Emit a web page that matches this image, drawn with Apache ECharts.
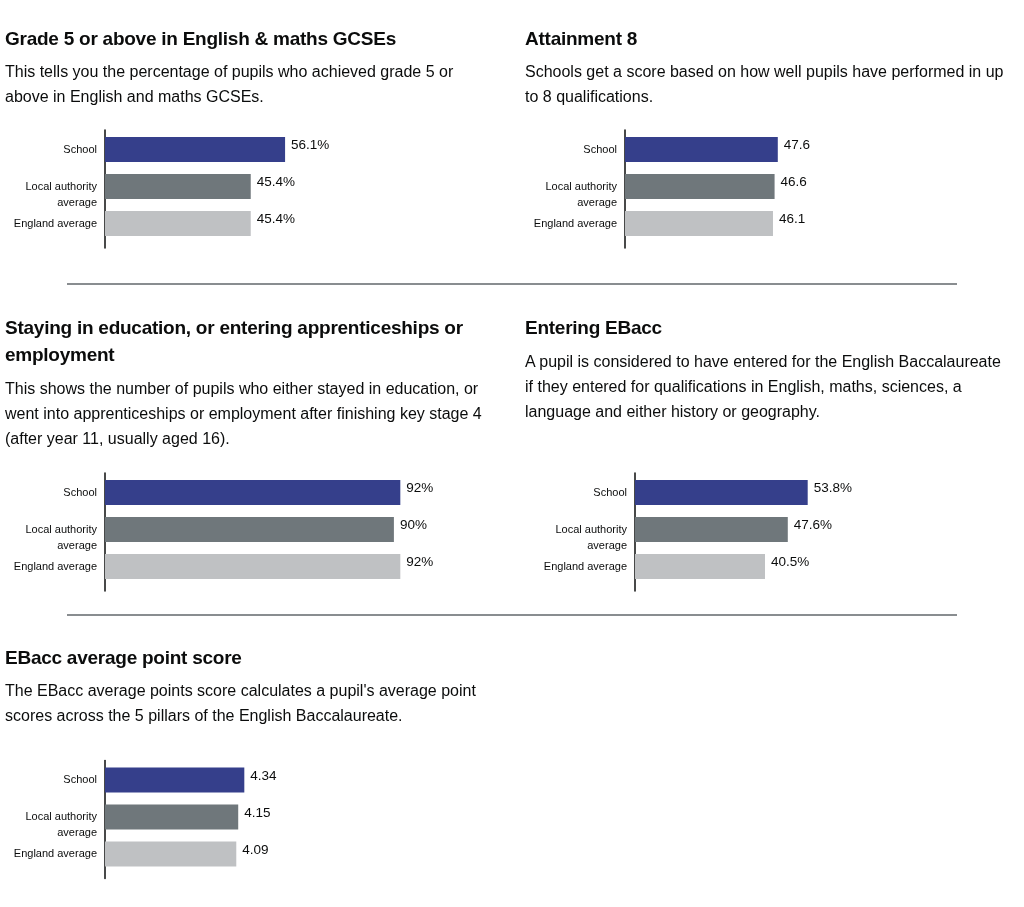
<!DOCTYPE html>
<html>
<head>
    <meta charset="utf-8">
    <title>School performance</title>
    <script src="https://cdn.jsdelivr.net/npm/echarts@6/dist/echarts.min.js"></script>
    <style>
        body{
            margin: 0;
            background: #fff;
            color: #0b0c0c;
            font-family: "Liberation Sans", Arial, sans-serif;
        }
        #page{
            position: relative;
            width: 1024px;
            height: 907px;
            overflow: hidden;
        }
        #charts{
            position: absolute;
            left: 0;
            top: 0;
            width: 1024px;
            height: 907px;
        }
        .block{
            position: absolute;
            white-space: nowrap;
            z-index: 2;
        }
        .block h2{
            margin: 0;
            font-size: 19px;
            line-height: 27px;
            font-weight: 700;
            letter-spacing: -0.25px;
        }
        .block p{
            margin: 0;
            font-size: 16px;
            line-height: 25px;
        }
        .rule{
            position: absolute;
            left: 67px;
            width: 890px;
            height: 2px;
            background: #898d90;
            z-index: 2;
        }
    </style>
</head>
<body>
<div id="page">
    <div id="charts"></div>

    <div class="block" style="left:5px;top:25px">
        <h2>Grade 5 or above in English &amp; maths GCSEs</h2>
    </div>
    <div class="block" style="left:5px;top:59px">
        <p>This tells you the percentage of pupils who achieved grade 5 or<br>above in English and maths GCSEs.</p>
    </div>

    <div class="block" style="left:525px;top:25px">
        <h2>Attainment 8</h2>
    </div>
    <div class="block" style="left:525px;top:59px">
        <p>Schools get a score based on how well pupils have performed in up<br>to 8 qualifications.</p>
    </div>

    <div class="rule" style="top:283px"></div>

    <div class="block" style="left:5px;top:314px">
        <h2>Staying in education, or entering apprenticeships or<br>employment</h2>
    </div>
    <div class="block" style="left:5px;top:376px">
        <p>This shows the number of pupils who either stayed in education, or<br>went into apprenticeships or employment after finishing key stage 4<br>(after year 11, usually aged 16).</p>
    </div>

    <div class="block" style="left:525px;top:314px">
        <h2>Entering EBacc</h2>
    </div>
    <div class="block" style="left:525px;top:349px">
        <p>A pupil is considered to have entered for the English Baccalaureate<br>if they entered for qualifications in English, maths, sciences, a<br>language and either history or geography.</p>
    </div>

    <div class="rule" style="top:614px"></div>

    <div class="block" style="left:5px;top:644px">
        <h2>EBacc average point score</h2>
    </div>
    <div class="block" style="left:5px;top:678px">
        <p>The EBacc average points score calculates a pupil's average point<br>scores across the 5 pillars of the English Baccalaureate.</p>
    </div>
</div>

<script>
    // categories shared by every chart
    var categories = ['School', 'Local authority\naverage', 'England average'];

    // values
    var gcseValues = [56.1, 45.4, 45.4];
    var attainmentValues = [47.6, 46.6, 46.1];
    var stayingValues = [92, 90, 92];
    var ebaccEntryValues = [53.8, 47.6, 40.5];
    var ebaccApsValues = [4.34, 4.15, 4.09];

    var barColours = ['#353f8b', '#6f777b', '#bfc1c3'];

    // where each small chart sits on the page
    var panels = [
        {values: gcseValues,       suffix: '%', max: 100, left: 105, top: 131},
        {values: attainmentValues, suffix: '',  max: 100, left: 625, top: 131},
        {values: stayingValues,    suffix: '%', max: 100, left: 105, top: 474},
        {values: ebaccEntryValues, suffix: '%', max: 100, left: 635, top: 474},
        {values: ebaccApsValues,   suffix: '',  max: 10,  left: 105, top: 761.5}
    ];

    var grid = [], xAxis = [], yAxis = [], series = [];

    panels.forEach(function (p, i) {
        // grid for the bars
        grid.push({left: p.left, top: p.top, width: 321, height: 111});
        xAxis.push({
            gridIndex: 2 * i, type: 'value', min: 0, max: p.max, show: false
        });
        yAxis.push({
            gridIndex: 2 * i,
            type: 'category',
            data: categories,
            inverse: true,
            axisLine: {show: false},
            axisTick: {show: false},
            axisLabel: {
                interval: 0,
                margin: 8,
                color: '#0b0c0c',
                fontSize: 11,
                lineHeight: 16,
                fontFamily: 'Liberation Sans, Arial, sans-serif',
                // keep the first line level with the bar, wrap below it
                formatter: function (v) {
                    return v.indexOf('\n') >= 0 ? '\n' + v : '\n' + v + '\n';
                }
            }
        });
        // grid that only carries the vertical axis line
        grid.push({left: p.left, top: p.top - 1, width: 321, height: 118});
        xAxis.push({gridIndex: 2 * i + 1, type: 'value', min: 0, max: 1, show: false});
        yAxis.push({
            gridIndex: 2 * i + 1,
            type: 'value',
            min: 0,
            max: 1,
            axisLine: {show: true, lineStyle: {color: '#0b0c0c', width: 1.5}},
            axisTick: {show: false},
            axisLabel: {show: false},
            splitLine: {show: false}
        });

        series.push({
            type: 'bar',
            xAxisIndex: 2 * i,
            yAxisIndex: 2 * i,
            barWidth: 25,
            silent: true,
            data: p.values.map(function (v, k) {
                return {value: v, itemStyle: {color: barColours[k]}};
            }),
            label: {
                show: true,
                position: 'right',
                distance: 6,
                offset: [0, -4],
                color: '#0b0c0c',
                fontSize: 13.5,
                fontFamily: 'Liberation Sans, Arial, sans-serif',
                formatter: function (d) {
                    return d.value + p.suffix;
                }
            }
        });
    });

    var myChart = echarts.init(document.getElementById('charts'));
    myChart.setOption({
        animation: false,
        grid: grid,
        xAxis: xAxis,
        yAxis: yAxis,
        series: series
    });
</script>
</body>
</html>
